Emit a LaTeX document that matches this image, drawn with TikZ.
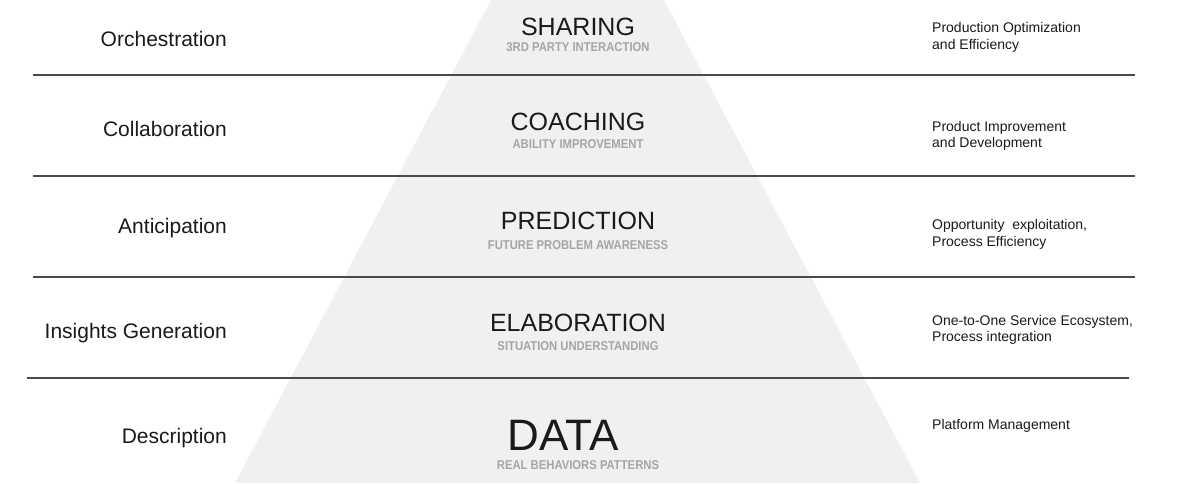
\documentclass[tikz,border=0pt]{standalone}
\usepackage{fontspec}
\setmainfont{Liberation Sans}
\newfontfamily\subfont[FakeStretch=0.88]{Liberation Sans Bold}
\definecolor{tri}{HTML}{F0F0F0}
\definecolor{rule}{HTML}{4A4A4A}
\definecolor{ink}{HTML}{1A1A1A}
\definecolor{subgray}{HTML}{A5A5A5}
\begin{document}
\begin{tikzpicture}[x=1pt,y=-1pt,
  leftlbl/.style={anchor=base east,inner sep=0pt,text=ink,font=\fontsize{21}{24}\selectfont},
  title/.style={anchor=base,inner sep=0pt,text=ink,font=\fontsize{25}{28}\selectfont},
  bigtitle/.style={anchor=base,inner sep=0pt,text=ink,font=\fontsize{44}{48}\selectfont},
  subt/.style={anchor=base,inner sep=0pt,text=subgray,font=\subfont\fontsize{12.8}{14}\selectfont},
  rightlbl/.style={anchor=north west,inner sep=0pt,text=ink,align=left,font=\fontsize{14}{16.5}\selectfont},
  sep/.style={draw=rule,line width=2.5pt}]
\useasboundingbox (0,0) rectangle (1179,483);
\clip (0,0) rectangle (1179,483);
% pyramid
\fill[tri] (577.5,-163) -- (920,483) -- (235,483) -- cycle;
% separators
\coordinate (a1) at (33,75);  \coordinate (b1) at (1135,75);
\coordinate (a2) at (33,176); \coordinate (b2) at (1135,176);
\coordinate (a3) at (33,277); \coordinate (b3) at (1135,277);
\coordinate (a4) at (27,378); \coordinate (b4) at (1129,378);
\draw[sep] (a1) -- (b1);
\draw[sep] (a2) -- (b2);
\draw[sep] (a3) -- (b3);
\draw[sep] (a4) -- (b4);
% left labels
\node[leftlbl] (l1) at (227,46) {Orchestration};
\node[leftlbl] (l2) at (227,136.5) {Collaboration};
\node[leftlbl] (l3) at (227,233) {Anticipation};
\node[leftlbl] (l4) at (227,338.3) {Insights Generation};
\node[leftlbl] (l5) at (227,443.3) {Description};
% titles
\node[title] (t1) at (578,35) {SHARING};
\node[subt] (s1) at (578,51) {3RD PARTY INTERACTION};
\node[title] (t2) at (578,130) {COACHING};
\node[subt] (s2) at (578,148) {ABILITY IMPROVEMENT};
\node[title] (t3) at (578,229.3) {PREDICTION};
\node[subt] (s3) at (578,249.3) {FUTURE PROBLEM AWARENESS};
\node[title] (t4) at (578,331.7) {ELABORATION};
\node[subt] (s4) at (578,350.7) {SITUATION UNDERSTANDING};
\node[bigtitle] (t5) at (563,450) {DATA};
\node[subt] (s5) at (578,469) {REAL BEHAVIORS PATTERNS};
% right labels
\node[rightlbl] (r1) at (932,22.5) {Production Optimization\\and Efficiency};
\node[rightlbl] (r2) at (932,121) {Product Improvement\\and Development};
\node[rightlbl] (r3) at (932,219.5) {Opportunity\ \ exploitation,\\Process Efficiency};
\node[rightlbl] (r4) at (932,315) {One-to-One Service Ecosystem,\\Process integration};
\node[rightlbl] (r5) at (932,419.5) {Platform Management};
\end{tikzpicture}
\end{document}
